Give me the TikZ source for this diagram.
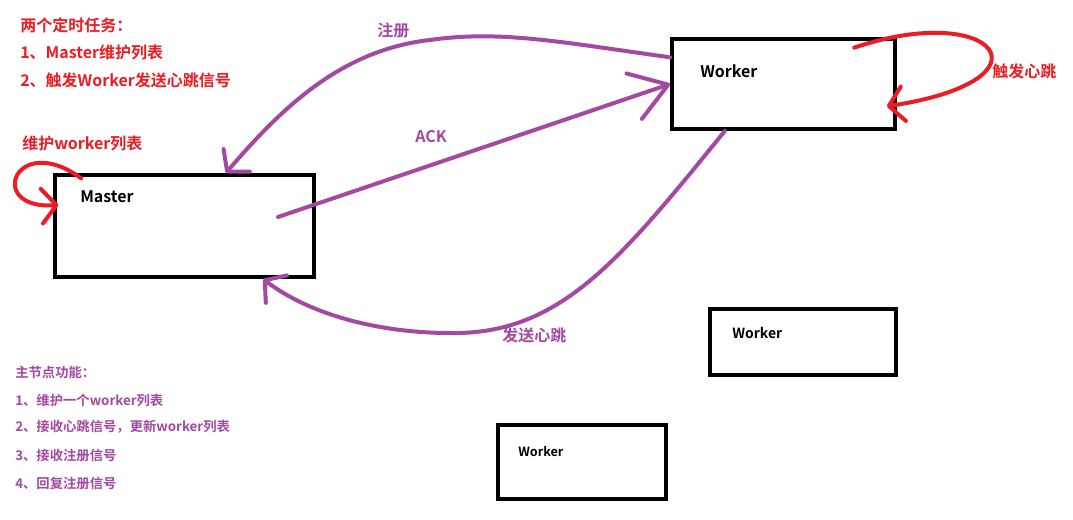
\documentclass[tikz,border=0pt]{standalone}
\usepackage{fontspec}
\setmainfont{Noto Sans CJK SC}[BoldFont={Noto Sans CJK SC Bold}]
\usetikzlibrary{arrows.meta,calc}
\definecolor{paintred}{RGB}{237,28,36}
\definecolor{paintpurple}{RGB}{163,73,164}
\tikzset{
  box/.style={draw, line width=3pt, rectangle, inner sep=0pt},
  tag/.style={anchor=west, inner sep=0pt, font=\bfseries\fontsize{12}{14}\selectfont},
  listtag/.style={tag, font=\bfseries\fontsize{10}{12}\selectfont},
  stroke/.style={line width=3pt, line cap=round, -{Straight Barb[length=11pt,width=26pt,round]}},
}
\begin{document}
\begin{tikzpicture}[x=0.75pt, y=-0.75pt]

\useasboundingbox (0,0) rectangle (1073,520);
\fill[white] (0,0) rectangle (1073,520);

\node[box, minimum width=194pt, minimum height=76.5pt] (master) at (184.5,226) {};
\node[box, minimum width=167pt, minimum height=67.5pt] (worker1) at (783.5,84) {};
\node[box, minimum width=139.5pt, minimum height=49.5pt] (worker2) at (803,342) {};
\node[box, minimum width=126pt, minimum height=55.5pt] (worker3) at (582,462) {};

\node[tag] (masterlabel) at (80,197) {Master};
\node[tag] (worker1label) at (700,71) {Worker};
\node[tag, font=\bfseries\fontsize{10.5}{12}\selectfont] (worker2label) at (732,333) {Worker};
\node[tag, font=\bfseries\fontsize{9.5}{11}\selectfont] (worker3label) at (518,452) {Worker};

\foreach \y/\t [count=\i] in {25/两个定时任务：, 52/1、Master维护列表, 80/2、触发Worker发送心跳信号}
\node[tag, paintred] (task\i) at (20,\y) {\t};

\node[tag, paintred] (masterloop) at (22,143) {维护worker列表};
\node[tag, paintred] (workerloop) at (992,71) {触发心跳};
\node[tag, paintpurple] (register) at (377,30) {注册};
\node[tag, paintpurple] (ack) at (415,137) {ACK};
\node[tag, paintpurple] (heartbeat) at (502,335) {发送心跳};

\foreach \y/\t [count=\i] in {372/主节点功能：, 400/1、维护一个worker列表, 427/2、接收心跳信号，更新worker列表, 455/3、接收注册信号, 483/4、回复注册信号}
\node[listtag, paintpurple] (duty\i) at (15,\y) {\t};

% purple messages
\coordinate (ackstart) at (278,217);
\draw[stroke, paintpurple] ([yshift=20pt]worker1.west) .. controls (560,42) and (500,30) .. (430,40)
  .. controls (340,50) and (280,110) .. ([xshift=31pt]master.north);
\draw[stroke, paintpurple, -{Straight Barb[length=27pt,width=36pt,round]}] (ackstart) -- (worker1.west);
\draw[stroke, paintpurple] ([xshift=-44pt]worker1.south) .. controls (620,260) and (560,335) .. (450,333)
  .. controls (380,333) and (310,315) .. ([xshift=59pt]master.south);

% red self loops
\draw[stroke, paintred] ($(master.north west)+(21pt,-4pt)$) .. controls (15,130) and (-15,210) .. ($(master.north west)+(4pt,-24pt)$);
\draw[stroke, paintred] ($(worker1.north east)+(-32pt,-8pt)$) .. controls (995,0) and (1060,80) .. ($(worker1.north east)+(-7.5pt,-52pt)$);
\end{tikzpicture}
\end{document}
